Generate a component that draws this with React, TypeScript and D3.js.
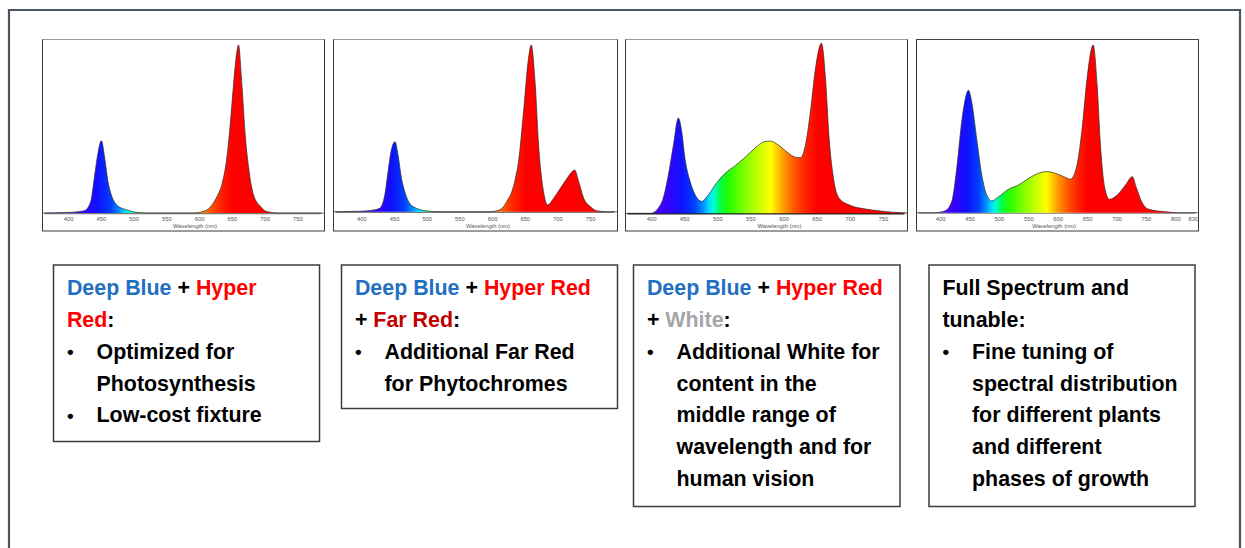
import React from 'react';
import * as d3 from 'd3';

const W = 1245;
const H = 548;

// ---- spectra (wavelength nm, relative intensity) ----
const blueRedWl = [360, 400, 415, 425, 430, 435, 440, 445, 450, 455, 460, 465, 473, 480, 488, 500, 520, 590, 606, 615, 621, 628, 634, 641.5, 646.5, 651.6, 656.8, 659.3, 664.5, 669.6, 674.7, 682, 692.5, 702.7, 720, 790];
const blueRedVal = [0, 0.003, 0.008, 0.015, 0.035, 0.09, 0.23, 0.36, 0.43, 0.33, 0.19, 0.11, 0.05, 0.03, 0.02, 0.006, 0, 0, 0.01, 0.03, 0.06, 0.11, 0.17, 0.33, 0.52, 0.76, 0.96, 1.0, 0.76, 0.46, 0.27, 0.11, 0.04, 0.008, 0, 0];

const farRedWl = [356, 400, 415, 427, 435, 440, 445, 450.7, 455.3, 460.5, 465.6, 473, 483.6, 499, 520, 595, 610, 616.6, 623, 629.5, 635, 639.7, 647.4, 655, 659.1, 665.3, 670.4, 678, 684.2, 693.4, 703.7, 714, 721.7, 725.7, 731.8, 739.5, 749.8, 760, 775, 791];
const farRedVal = [0, 0.003, 0.008, 0.02, 0.1, 0.24, 0.37, 0.42, 0.34, 0.2, 0.12, 0.05, 0.02, 0.005, 0, 0, 0.01, 0.03, 0.07, 0.12, 0.2, 0.3, 0.6, 0.92, 1.0, 0.76, 0.4, 0.12, 0.04, 0.08, 0.14, 0.2, 0.24, 0.25, 0.18, 0.08, 0.03, 0.005, 0, 0];

const whiteWl = [360, 399, 410, 417.7, 425.3, 432.9, 440.4, 445.5, 450.5, 458, 465.6, 475.8, 485.9, 498.5, 511, 526.2, 541.4, 556.5, 569.2, 579.3, 592, 604.5, 617.2, 624.7, 632.3, 639.9, 647.4, 656.5, 662.6, 667.7, 675.3, 682.8, 698, 723.2, 748.5, 778.8, 786];
const whiteVal = [0, 0, 0.03, 0.09, 0.225, 0.4, 0.56, 0.48, 0.32, 0.19, 0.11, 0.07, 0.11, 0.18, 0.235, 0.28, 0.33, 0.385, 0.42, 0.425, 0.4, 0.36, 0.33, 0.327, 0.4, 0.6, 0.85, 1.0, 0.79, 0.46, 0.19, 0.09, 0.05, 0.025, 0.012, 0.003, 0.002];

const fullWl = [359, 390, 407, 418.8, 427.3, 435.8, 442.7, 447.3, 452.9, 461.4, 470, 478.5, 487, 498.5, 515.5, 532.6, 549.7, 566.7, 580.9, 595, 609.4, 620.7, 632, 640.6, 649.1, 659.4, 666.2, 671.9, 679.3, 687.2, 700.3, 714.5, 725.9, 732.8, 743, 754.4, 782.8, 805.5, 838];
const fullVal = [0, 0, 0.01, 0.065, 0.26, 0.54, 0.69, 0.73, 0.66, 0.44, 0.225, 0.105, 0.07, 0.095, 0.14, 0.165, 0.205, 0.235, 0.245, 0.235, 0.215, 0.2, 0.285, 0.5, 0.8, 1.0, 0.76, 0.4, 0.145, 0.08, 0.105, 0.165, 0.215, 0.15, 0.058, 0.02, 0.005, 0, 0];

// ---- tick labels ----
const ticksStd = [400, 450, 500, 550, 600, 650, 700, 750];
const ticksFull = [400, 450, 500, 550, 600, 650, 700, 750, 800, 830];
const axisTitle = 'Wavelength (nm)';

// ---- spectrum colour stops ----
const spectrumStops: [number, string][] = [
  [380, '#6a00ff'], [420, '#3a00ff'], [445, '#1010ff'], [465, '#0040ff'], [478, '#0090ff'],
  [486, '#00d8ff'], [494, '#00ffd0'], [503, '#00ff50'], [515, '#20ff00'], [550, '#a0ff00'],
  [580, '#ffff00'], [600, '#ff9800'], [615, '#ff5a00'], [632, '#ff2400'], [650, '#ff0000'], [840, '#ff0000'],
];

// ---- text boxes ----
const BLUE = '#1F70C1';
const RED = '#FF0000';
const FARRED = '#C00000';
const GREYW = '#A6A6A6';
const BLACK = '#000000';

type Seg = [string, string];
const box1Head: Seg[][] = [[['Deep Blue', BLUE], [' + ', BLACK], ['Hyper', RED]], [['Red', RED], [':', BLACK]]];
const box1Bullets: string[][] = [['Optimized for', 'Photosynthesis'], ['Low-cost fixture']];
const box2Head: Seg[][] = [[['Deep Blue', BLUE], [' + ', BLACK], ['Hyper Red', RED]], [['+ ', BLACK], ['Far Red', FARRED], [':', BLACK]]];
const box2Bullets: string[][] = [['Additional Far Red', 'for Phytochromes']];
const box3Head: Seg[][] = [[['Deep Blue', BLUE], [' + ', BLACK], ['Hyper Red', RED]], [['+ ', BLACK], ['White', GREYW], [':', BLACK]]];
const box3Bullets: string[][] = [['Additional White for', 'content in the', 'middle range of', 'wavelength and for', 'human vision']];
const box4Head: Seg[][] = [[['Full Spectrum and', BLACK]], [['tunable:', BLACK]]];
const box4Bullets: string[][] = [['Fine tuning of', 'spectral distribution', 'for different plants', 'and different', 'phases of growth']];

const panels = [
  { left: 42.5, right: 324.5, domain: [360.2, 790.5], base: 213, peak: 45, wl: blueRedWl, val: blueRedVal, ticks: ticksStd, axis: '#7a7a7a', topStroke: '#9a9a9a' },
  { left: 333.5, right: 617.5, domain: [356.5, 791.2], base: 211.7, peak: 45, wl: farRedWl, val: farRedVal, ticks: ticksStd, axis: '#7a7a7a', topStroke: '#9a9a9a' },
  { left: 625.5, right: 907.5, domain: [360.6, 786.4], base: 213.3, peak: 43.3, wl: whiteWl, val: whiteVal, ticks: ticksStd, axis: '#222222', topStroke: '#9a9a9a' },
  { left: 916.5, right: 1198.5, domain: [359, 838.6], base: 212.7, peak: 45, wl: fullWl, val: fullVal, ticks: ticksFull, axis: '#9a9a9a', topStroke: '#444444' },
];
const panelTop = 39.5;
const panelBottom = 231;

const boxes = [
  { left: 53.5, top: 265, right: 319.5, bottom: 441.5, head: box1Head, bullets: box1Bullets },
  { left: 341.5, top: 265, right: 617.5, bottom: 408.5, head: box2Head, bullets: box2Bullets },
  { left: 633.5, top: 265, right: 900, bottom: 506.5, head: box3Head, bullets: box3Bullets },
  { left: 929, top: 265, right: 1195, bottom: 506.5, head: box4Head, bullets: box4Bullets },
];

const FONT = "'Liberation Sans', Arial, Helvetica, sans-serif";

function Panel({ p, i }: { p: typeof panels[number]; i: number }) {
  const x = d3.scaleLinear().domain(p.domain).range([p.left, p.right]);
  const y = d3.scaleLinear().domain([0, 1]).range([p.base, p.peak]);
  const pts: [number, number][] = p.wl.map((w, k) => [w, p.val[k]]);
  const area = d3.area<[number, number]>().x(d => x(d[0])).y0(p.base).y1(d => y(d[1])).curve(d3.curveMonotoneX);
  const line = d3.line<[number, number]>().x(d => x(d[0])).y(d => y(d[1])).curve(d3.curveMonotoneX);
  const g0 = 380, g1 = 840;
  const id = `spec${i}`;
  return (
    <g>
      <defs>
        <linearGradient id={id} gradientUnits="userSpaceOnUse" x1={x(g0)} x2={x(g1)} y1={0} y2={0}>
          {spectrumStops.map(([w, c]) => (
            <stop key={w} offset={(w - g0) / (g1 - g0)} stopColor={c} />
          ))}
        </linearGradient>
      </defs>
      <rect x={p.left} y={panelTop} width={p.right - p.left} height={panelBottom - panelTop} fill="#fff" stroke="#3a3a3a" strokeWidth={1} />
      <line x1={p.left} x2={p.right} y1={panelTop} y2={panelTop} stroke={p.topStroke} strokeWidth={1.2} />
      <line x1={p.left + 2} x2={p.right - 3} y1={p.base + 0.5} y2={p.base + 0.5} stroke={p.axis} strokeWidth={1.4} />
      <path d={area(pts) || ''} fill={`url(#${id})`} />
      <path d={line(pts) || ''} fill="none" stroke="#2a2a2a" strokeWidth={0.7} />
      {p.ticks.map(t => (
        <text key={t} x={x(t)} y={220.5} fontSize={5.8} fontFamily={FONT} fill="#555" textAnchor="middle">{t}</text>
      ))}
      <text x={x(593)} y={227.8} fontSize={5.8} fontFamily={FONT} fill="#555" textAnchor="middle">{axisTitle}</text>
    </g>
  );
}

function Box({ b }: { b: typeof boxes[number] }) {
  const lh = 31.75;
  const first = b.top + 30.3;
  const tx = b.left + 13.4;
  const bx = b.left + 13.6;
  const ix = b.left + 43;
  let row = 0;
  const els: React.ReactNode[] = [];
  b.head.forEach((segs, k) => {
    els.push(
      <text key={`h${k}`} x={tx} y={first + row * lh} style={{ whiteSpace: 'pre' }}>
        {segs.map(([s, c], j) => <tspan key={j} fill={c}>{s}</tspan>)}
      </text>
    );
    row++;
  });
  b.bullets.forEach((lines, k) => {
    els.push(<text key={`b${k}`} x={bx} y={first + row * lh - 0.8} fontSize={19}>{'\u2022'}</text>);
    lines.forEach((ln, j) => {
      els.push(<text key={`l${k}-${j}`} x={ix} y={first + row * lh}>{ln}</text>);
      row++;
    });
  });
  return (
    <g fontFamily={FONT} fontWeight="bold" fontSize={21.4} fill="#000">
      <rect x={b.left} y={b.top} width={b.right - b.left} height={b.bottom - b.top} fill="#fff" stroke="#3c3c3c" strokeWidth={1.5} />
      {els}
    </g>
  );
}

export default function App() {
  return (
    <svg width={W} height={H} viewBox={`0 0 ${W} ${H}`} style={{ position: 'absolute', left: 0, top: 0, background: '#fff' }}>
      <rect x={0} y={0} width={W} height={H} fill="#fff" />
      <path d={`M9,${H + 5} L9,10 L1240,10 L1240,${H + 5}`} fill="none" stroke="#4a5560" strokeWidth={2.2} />
      {panels.map((p, i) => <Panel key={i} p={p} i={i} />)}
      {boxes.map((b, i) => <Box key={i} b={b} />)}
    </svg>
  );
}
